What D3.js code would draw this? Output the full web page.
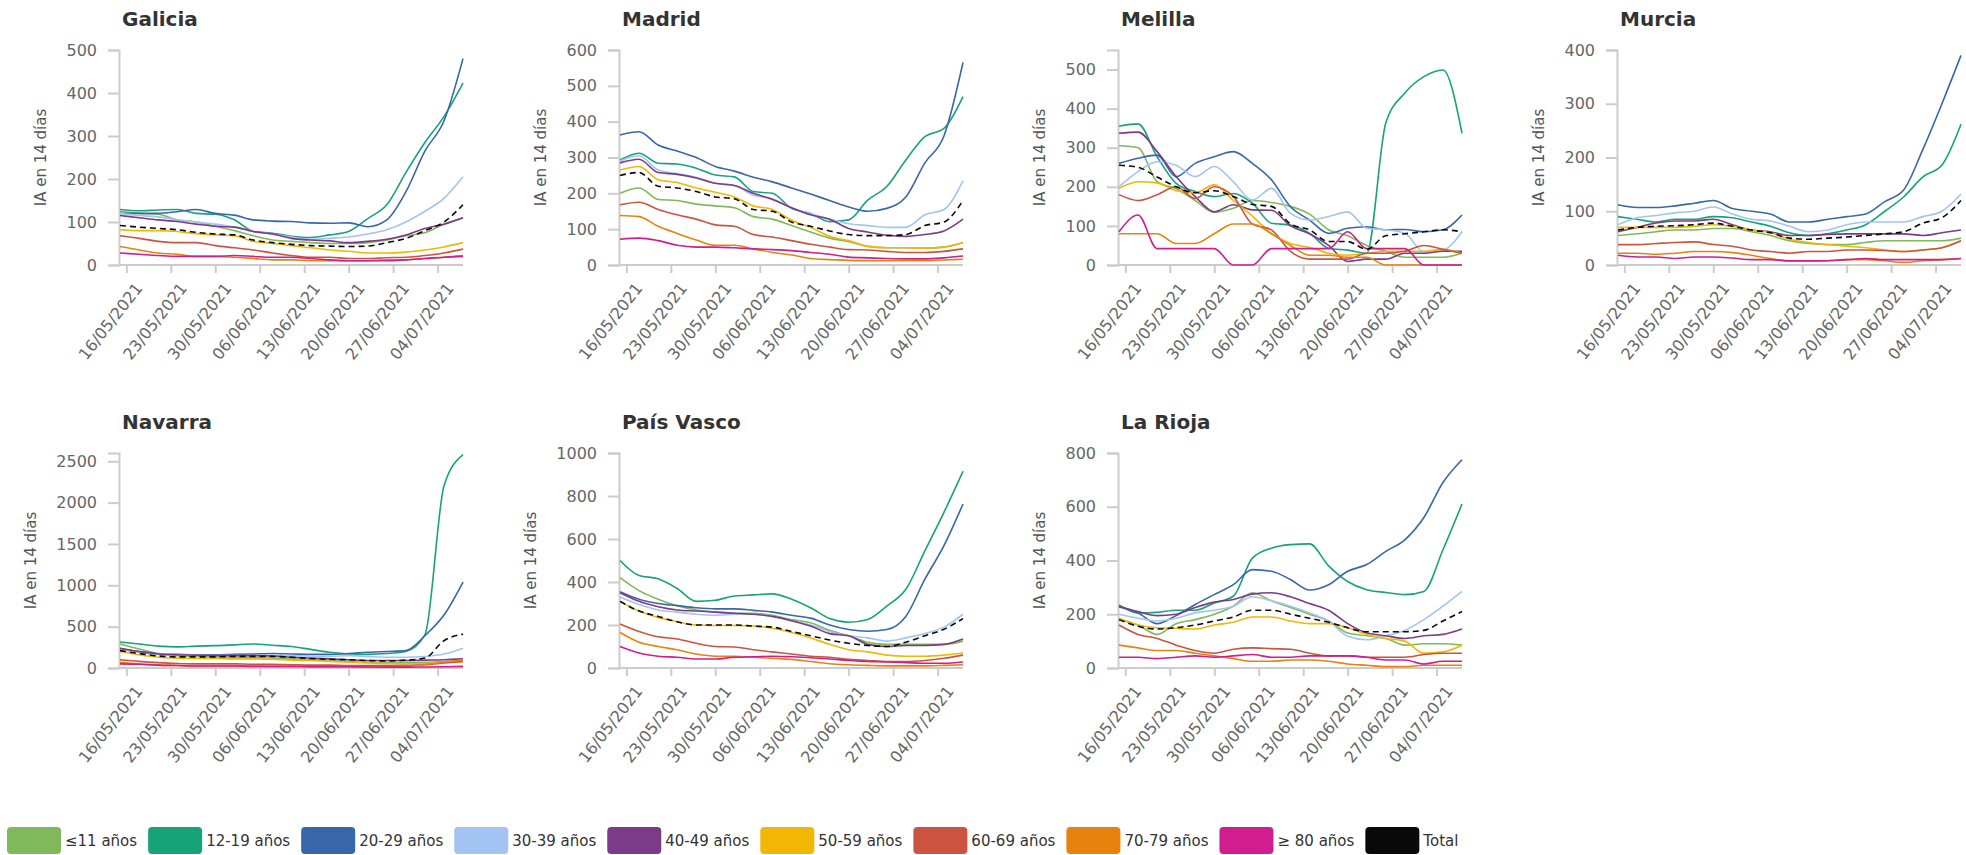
<!DOCTYPE html>
<html>
<head>
<meta charset="utf-8">
<script src="https://cdn.jsdelivr.net/npm/d3@7"></script>
<style>
  body { margin: 0; background: #fff; }
  svg text { font-family: "DejaVu Sans", sans-serif; }
</style>
</head>
<body>
<svg id="chart" width="1966" height="855"></svg>
<script>
// sample dates (every 3 days)
const dates = ["15/05/2021","18/05/2021","21/05/2021","24/05/2021","27/05/2021","30/05/2021",
  "02/06/2021","05/06/2021","08/06/2021","11/06/2021","14/06/2021","17/06/2021","20/06/2021",
  "23/06/2021","26/06/2021","29/06/2021","02/07/2021","05/07/2021","08/07/2021"];
const tickDates = ["16/05/2021","23/05/2021","30/05/2021","06/06/2021","13/06/2021","20/06/2021","27/06/2021","04/07/2021"];

const groups = ["≤11 años","12-19 años","20-29 años","30-39 años","40-49 años","50-59 años","60-69 años","70-79 años","≥ 80 años","Total"];
const colors = ["#80b95a","#17a378","#3866ab","#a3c3f2","#7d3a88","#f2b705","#cc5340","#e8820f","#d11d8e","#0a0a0a"];

const regions = ["Galicia","Madrid","Melilla","Murcia","Navarra","País Vasco","La Rioja"];
const yMax = [500, 600, 550, 400, 2600, 1000, 800];
const yStep = [100, 100, 100, 100, 500, 200, 200];

// one array per age group, same order as groups
const galicia = [
  [125,120,118,105,100,90,80,68,58,55,52,50,50,52,58,68,75,95,110],
  [129,126,128,129,120,118,105,78,74,67,64,70,78,108,140,215,285,345,423],
  [120,120,120,124,129,120,116,105,102,101,98,97,98,89,105,170,265,335,480],
  [120,115,112,105,100,95,88,78,72,65,60,62,65,72,82,100,125,155,205],
  [115,110,105,101,95,90,88,78,72,62,58,56,52,55,60,70,85,95,110],
  [82,80,80,78,73,70,68,55,50,45,40,35,32,28,28,30,35,42,52],
  [68,62,55,52,52,45,40,35,28,22,18,18,15,15,17,18,22,28,37],
  [43,35,28,25,20,20,18,15,12,12,10,10,10,10,12,12,15,18,22],
  [28,25,22,20,20,20,22,20,18,18,15,12,10,10,10,12,15,18,20],
  [92,88,85,82,76,72,70,58,52,48,45,44,43,44,52,62,80,100,140]
];
const madrid = [
  [200,215,183,180,170,165,160,135,128,110,92,75,65,52,48,48,47,50,62],
  [293,312,284,282,270,251,246,205,200,158,144,121,126,181,219,293,358,381,470],
  [363,372,335,318,300,275,262,245,232,215,198,180,162,150,158,190,285,360,565],
  [290,305,265,255,245,228,222,195,185,160,143,128,115,110,105,105,140,155,235],
  [285,295,258,253,243,228,222,200,183,160,140,128,102,92,83,80,85,95,128],
  [265,275,238,230,215,203,190,165,155,125,105,80,68,52,48,48,47,50,62],
  [168,175,155,140,128,112,108,85,78,68,58,50,43,42,38,35,35,38,45],
  [138,135,108,88,70,55,55,45,35,28,18,15,13,12,12,12,12,14,16],
  [72,75,68,55,50,50,48,45,43,40,35,30,22,20,18,17,17,20,25],
  [250,258,220,215,205,190,185,155,150,120,108,95,85,82,82,85,110,120,180]
];
const melilla = [
  [305,300,213,195,165,135,145,165,160,150,130,90,75,50,35,20,20,20,30],
  [355,361,277,209,188,175,183,158,107,102,81,43,38,30,363,440,482,499,337],
  [260,273,281,226,260,277,290,260,218,149,115,81,94,98,90,91,85,90,128],
  [200,239,264,255,226,252,213,166,196,132,115,124,136,94,90,81,34,38,85],
  [337,340,290,226,175,136,154,141,140,100,80,50,9,15,15,30,30,35,35],
  [196,213,210,190,185,205,165,125,80,55,45,30,25,30,35,35,35,40,30],
  [180,165,180,200,170,200,175,105,90,35,15,15,15,30,30,35,50,40,30],
  [80,80,80,55,55,80,105,105,80,50,25,25,20,20,0,0,0,0,0],
  [85,128,42,42,42,42,0,0,42,42,42,42,85,42,42,42,0,0,0],
  [255,250,225,200,185,190,175,155,150,105,90,60,60,40,75,80,85,90,85]
];
const murcia = [
  [55,58,62,65,65,68,68,62,55,45,40,38,38,42,45,45,45,45,50],
  [90,85,80,85,85,90,88,80,72,60,55,58,65,75,100,127,164,186,262],
  [112,107,107,110,115,120,105,100,95,80,80,85,90,95,118,140,215,300,390],
  [75,88,92,97,100,108,95,85,82,72,62,65,75,80,80,80,90,100,132],
  [62,70,78,82,82,85,75,65,62,55,55,57,58,58,58,58,55,60,65],
  [70,70,70,70,72,75,72,65,60,48,42,38,35,32,28,25,28,32,45],
  [38,38,40,42,43,38,35,28,25,22,25,25,28,28,27,25,28,32,45],
  [22,22,20,22,25,25,23,18,12,7,7,8,10,10,8,5,8,10,12],
  [18,15,15,12,15,15,13,10,10,8,8,8,10,12,10,10,10,10,12],
  [65,70,72,73,75,78,72,65,60,50,48,50,52,55,58,62,78,88,120]
];
const navarra = [
  [290,230,175,150,140,135,130,125,120,110,100,90,80,70,65,65,70,75,80],
  [315,290,265,255,265,270,280,290,275,260,225,190,170,165,175,200,400,2200,2580],
  [230,200,170,165,160,160,165,170,175,170,165,165,175,190,200,210,390,640,1040],
  [220,190,165,160,155,150,150,150,150,150,145,140,150,140,130,130,140,170,240],
  [240,200,170,160,155,150,150,150,145,130,120,110,100,90,90,90,95,100,110],
  [200,160,130,120,115,115,110,110,105,95,90,80,70,60,55,50,55,65,80],
  [100,80,65,55,50,50,50,45,45,40,35,35,30,30,30,30,40,60,80],
  [70,50,35,30,25,25,25,25,20,20,15,15,15,15,15,20,40,70,100],
  [50,45,35,30,25,25,25,20,20,20,15,15,15,12,10,10,12,15,20],
  [210,175,145,135,135,135,140,140,140,130,115,105,100,90,85,95,120,330,410]
];
const paisVasco = [
  [420,360,320,290,270,260,255,255,245,225,210,175,150,120,110,110,110,110,125],
  [500,430,415,370,310,315,335,340,345,320,280,230,213,226,288,366,545,724,915],
  [355,320,300,290,280,275,275,268,260,245,232,200,179,171,179,240,413,569,763],
  [330,295,270,260,250,245,250,250,240,220,200,170,150,140,125,140,160,190,250],
  [350,310,285,270,265,260,255,250,240,220,195,160,150,110,100,105,105,110,135],
  [310,265,235,215,200,198,198,195,185,165,140,110,85,75,60,55,55,60,70],
  [205,170,145,135,115,100,98,85,75,65,55,50,40,35,30,30,35,45,60],
  [165,120,100,85,65,55,55,50,45,40,30,20,15,12,10,10,10,12,15],
  [100,70,55,50,42,42,50,52,55,52,48,42,35,30,28,25,22,22,28],
  [310,265,240,215,200,200,200,195,190,170,150,130,115,105,100,120,150,180,230]
];
const rioja = [
  [180,160,125,165,180,200,230,280,250,225,200,175,130,120,110,85,90,90,85],
  [235,205,207,215,215,242,267,409,446,459,462,380,322,291,281,273,285,440,610],
  [227,205,165,195,236,273,310,366,360,329,290,310,360,385,434,477,560,690,775],
  [200,185,175,185,205,215,230,265,250,230,205,175,118,105,120,140,180,230,285],
  [230,210,195,200,225,245,255,275,280,265,240,215,165,130,120,110,120,125,145],
  [185,160,150,148,145,160,170,190,190,175,165,165,150,125,110,100,55,60,85],
  [160,125,110,85,65,55,70,75,72,70,55,45,45,40,40,40,50,55,55],
  [85,75,65,65,55,45,35,25,25,30,30,25,15,10,5,5,10,10,10],
  [40,40,35,40,45,40,45,50,40,40,45,45,45,40,30,30,15,25,25],
  [180,155,145,150,160,175,190,215,215,200,185,170,150,135,135,135,140,175,210]
];
const regionData = [galicia, madrid, melilla, murcia, navarra, paisVasco, rioja];

const parse = d3.timeParse("%d/%m/%Y");
const fmt = d3.timeFormat("%d/%m/%Y");
const dateObjs = dates.map(parse);

const svg = d3.select("#chart");
const colX = [119, 619, 1118, 1617];
const rowY = [50, 453];
const W = 344, H = 215;
const axisColor = "#cccccc";

const x = d3.scaleTime()
  .domain([dateObjs[0], dateObjs[dateObjs.length - 1]])
  .range([1, W]);

regions.forEach((name, r) => {
  const ox = colX[r % 4], oy = rowY[Math.floor(r / 4)];
  const g = svg.append("g").attr("transform", `translate(${ox},${oy})`);
  const y = d3.scaleLinear().domain([0, yMax[r]]).range([H, 0]);

  // title
  g.append("text")
    .attr("x", 3).attr("y", -24)
    .attr("font-size", 20).attr("font-weight", "bold").attr("fill", "#333")
    .text(name);

  // y axis
  const yAxis = g.append("g")
    .call(d3.axisLeft(y)
      .tickValues(d3.range(0, yMax[r] + 1, yStep[r]))
      .tickSize(11).tickPadding(11).tickFormat(d3.format("d")));
  yAxis.select(".domain").attr("stroke", axisColor).attr("stroke-width", 2);
  yAxis.selectAll(".tick line").attr("stroke", axisColor).attr("stroke-width", 2);
  yAxis.selectAll("text")
    .attr("font-size", 16).attr("fill", "#666")
    .attr("font-family", "DejaVu Sans, sans-serif");

  // x axis
  const xAxis = g.append("g")
    .attr("transform", `translate(0,${H})`)
    .call(d3.axisBottom(x)
      .tickValues(tickDates.map(parse))
      .tickSize(8).tickFormat(fmt));
  xAxis.select(".domain")
    .attr("d", `M0,0H${W}`)
    .attr("stroke", axisColor).attr("stroke-width", 2);
  xAxis.selectAll(".tick line").attr("stroke", axisColor).attr("stroke-width", 2);
  xAxis.selectAll("text")
    .attr("font-size", 16).attr("fill", "#666")
    .attr("font-family", "DejaVu Sans, sans-serif")
    .attr("text-anchor", "end")
    .attr("x", 0).attr("y", 0).attr("dy", "0.35em")
    .attr("transform", "translate(12,20) rotate(-52)");

  // y axis title, left of the widest tick label
  let minX = 0;
  yAxis.selectAll("text").each(function () {
    minX = Math.min(minX, this.getBBox().x);
  });
  g.append("text")
    .attr("transform", `translate(${minX - 25},${H / 2}) rotate(-90)`)
    .attr("text-anchor", "middle").attr("dominant-baseline", "central")
    .attr("font-size", 15).attr("fill", "#555")
    .text("IA en 14 días");

  // lines
  const line = d3.line()
    .x((d, i) => x(dateObjs[i]))
    .y(d => y(d))
    .curve(d3.curveMonotoneX);

  regionData[r].forEach((vals, k) => {
    g.append("path")
      .attr("d", line(vals))
      .attr("fill", "none")
      .attr("stroke", colors[k])
      .attr("stroke-width", 1.6)
      .attr("stroke-dasharray", groups[k] === "Total" ? "6,4" : null);
  });
});

// legend
const legend = svg.append("g").attr("transform", "translate(0,827)");
let lx = 7;
groups.forEach((label, k) => {
  legend.append("rect")
    .attr("x", lx).attr("y", 0)
    .attr("width", 54).attr("height", 27).attr("rx", 4)
    .attr("fill", colors[k]);
  const t = legend.append("text")
    .attr("x", lx + 58).attr("y", 14)
    .attr("dominant-baseline", "central")
    .attr("font-size", 15).attr("fill", "#333")
    .text(label);
  lx += 58 + t.node().getComputedTextLength() + 11;
});
</script>
</body>
</html>
